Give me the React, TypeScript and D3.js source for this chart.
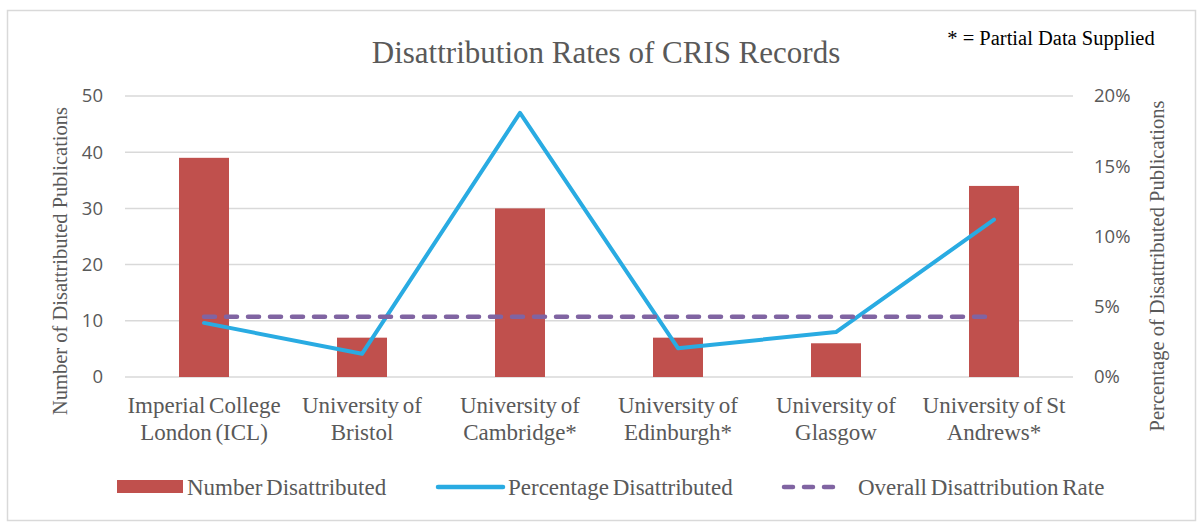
import React from 'react';
import * as d3 from 'd3';

const categories = [
  ['Imperial College', 'London (ICL)'],
  ['University of', 'Bristol'],
  ['University of', 'Cambridge*'],
  ['University of', 'Edinburgh*'],
  ['University of', 'Glasgow'],
  ['University of St', 'Andrews*'],
];
const numberDisattributed = [39, 7, 30, 7, 6, 34];
const percentDisattributed = [0.0385, 0.0165, 0.188, 0.0205, 0.032, 0.112];
const overallRate = 0.0428;
const leftTicks = [0, 10, 20, 30, 40, 50];
const rightTicks = [0, 0.05, 0.1, 0.15, 0.2];

const W = 1202;
const H = 524;
const plot = { left: 125, right: 1073, top: 96, bottom: 377 };

const RED = '#C0504D';
const BLUE = '#29ABE2';
const PURPLE = '#8064A2';
const GRID = '#D9D9D9';
const TEXT = '#595959';
const SERIF = 'Liberation Serif';

const App: React.FC = () => {
  const idx = categories.map((_, i) => i);
  const x = d3.scaleBand<number>().domain(idx).range([plot.left, plot.right]);
  const yL = d3.scaleLinear().domain([0, 50]).range([plot.bottom, plot.top]);
  const yR = d3.scaleLinear().domain([0, 0.2]).range([plot.bottom, plot.top]);
  const cx = (i: number) => (x(i) as number) + x.bandwidth() / 2;
  const barW = 50;

  const pctLine = d3.line<number>()
    .x((_, i) => cx(i))
    .y(d => yR(d))(percentDisattributed) as string;

  const overallLine = d3.line<number>()
    .x(i => cx(i))
    .y(() => yR(overallRate))([0, categories.length - 1]) as string;

  const pctFmt = d3.format('.0%');

  return (
    <svg width={W} height={H} style={{ position: 'absolute', left: 0, top: 0, background: '#fff' }}>
      <rect x={7.5} y={10.5} width={1188} height={510} fill="#fff" stroke={GRID} strokeWidth={1.5} />

      {/* Title + note */}
      <text x={606} y={63} textAnchor="middle" fontFamily={SERIF} fontSize={31} fill={TEXT}>
        Disattribution Rates of CRIS Records
      </text>
      <text x={1051} y={45} textAnchor="middle" fontFamily={SERIF} fontSize={20.5} fill="#000">
        * = Partial Data Supplied
      </text>

      {/* Gridlines */}
      {leftTicks.map(t => (
        <line key={t} x1={plot.left} x2={plot.right} y1={yL(t)} y2={yL(t)} stroke={GRID} strokeWidth={1.5} />
      ))}

      {/* Left ticks */}
      {leftTicks.map(t => (
        <text key={'l' + t} x={103} y={yL(t)} dy="0.35em" textAnchor="end" fontFamily="Open Sans" fontSize={18.5} fill={TEXT}>
          {t}
        </text>
      ))}
      {/* Right ticks */}
      {rightTicks.map(t => (
        <text key={'r' + t} x={1094} y={yR(t)} dy="0.35em" textAnchor="start" fontFamily="Open Sans" fontSize={18.5} fill={TEXT}>
          {pctFmt(t)}
        </text>
      ))}

      {/* Axis titles */}
      <text transform="translate(67,261) rotate(-90)" textAnchor="middle"
        fontFamily={SERIF} fontSize={20.5} fill={TEXT}>
        Number of Disattributed Publications
      </text>
      <text transform="translate(1164,266) rotate(-90)" textAnchor="middle"
        fontFamily={SERIF} fontSize={20.5} fill={TEXT}>
        Percentage of Disattributed Publications
      </text>

      {/* Bars */}
      {numberDisattributed.map((v, i) => (
        <rect key={i} x={cx(i) - barW / 2} y={yL(v)} width={barW} height={yL(0) - yL(v)} fill={RED} />
      ))}

      {/* Lines */}
      <path d={pctLine} fill="none" stroke={BLUE} strokeWidth={4} strokeLinejoin="round" strokeLinecap="round" />
      <path d={overallLine} fill="none" stroke={PURPLE} strokeWidth={4.5} strokeDasharray="11 11" strokeLinecap="round" />

      {/* Category labels */}
      {categories.map((lines, i) => (
        <text key={'c' + i} x={cx(i)} y={413} textAnchor="middle" fontFamily={SERIF} fontSize={23} fill={TEXT}
          wordSpacing={-2}>
          {lines.map((s, j) => (
            <tspan key={j} x={cx(i)} dy={j === 0 ? 0 : 27}>{s}</tspan>
          ))}
        </text>
      ))}

      {/* Legend */}
      <rect x={117} y={480} width={66} height={13} fill={RED} />
      <text x={187} y={495} fontFamily={SERIF} fontSize={23} fill={TEXT} wordSpacing={-2}>Number Disattributed</text>
      <line x1={438} x2={503} y1={487} y2={487} stroke={BLUE} strokeWidth={4.5} strokeLinecap="round" />
      <text x={508} y={495} fontFamily={SERIF} fontSize={23} fill={TEXT} wordSpacing={-2}>Percentage Disattributed</text>
      <line x1={784} x2={842} y1={487} y2={487} stroke={PURPLE} strokeWidth={4.5} strokeDasharray="9 11" strokeLinecap="round" />
      <text x={858} y={495} fontFamily={SERIF} fontSize={23} fill={TEXT} wordSpacing={-2}>Overall Disattribution Rate</text>
    </svg>
  );
};

export default App;
